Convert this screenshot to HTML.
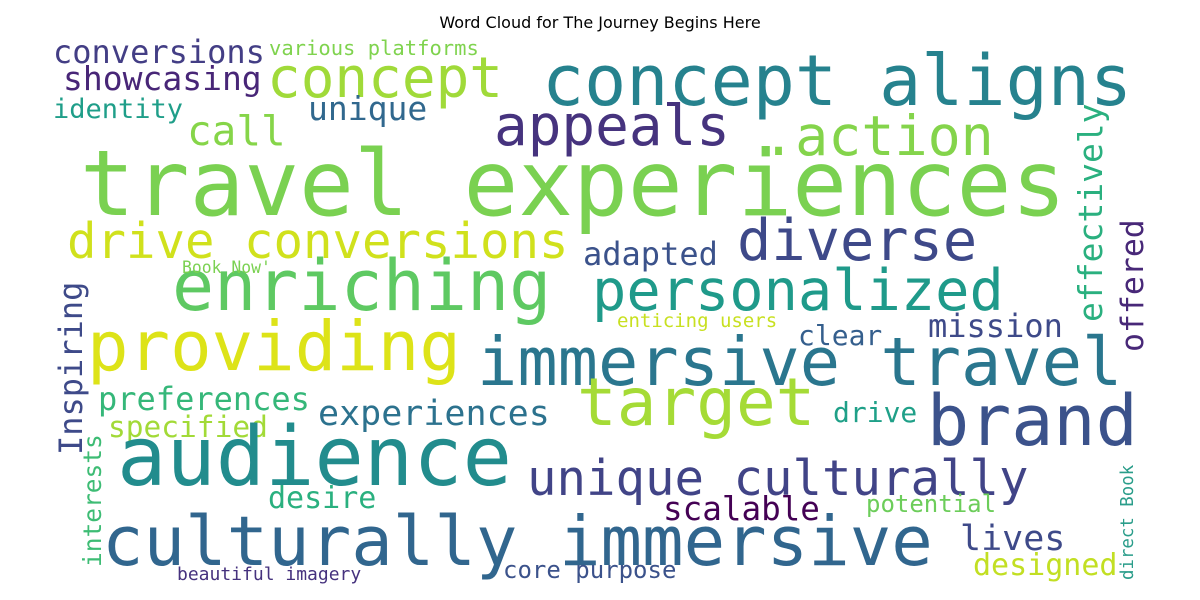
<!DOCTYPE html>
<html><head><meta charset="utf-8"><style>
html,body{margin:0;padding:0;background:#fff;width:1200px;height:600px;overflow:hidden}
svg text{font-family:"DejaVu Sans Mono","Liberation Mono",monospace}
</style></head><body>
<svg width="1200" height="600" xmlns="http://www.w3.org/2000/svg">
<rect width="1200" height="600" fill="#fff"/>
<text x="600" y="28" text-anchor="middle" style="font-family:'DejaVu Sans','Liberation Sans',sans-serif" font-size="16" fill="#000">Word Cloud for The Journey Begins Here</text>
<text x="80" y="215" font-size="91" fill="#7ad151">travel experiences</text>
<text x="542" y="105" font-size="70" fill="#26828e">concept aligns</text>
<text x="267" y="97" font-size="56" fill="#a0da39">concept</text>
<text x="494" y="145" font-size="56" fill="#46337e">appeals</text>
<text x="187" y="145" font-size="41" fill="#86d549">call</text>
<text x="762" y="155" font-size="55" fill="#84d44b">.action</text>
<text x="53" y="63" font-size="32" fill="#433e85">conversions</text>
<text x="269" y="55" font-size="20.5" fill="#7fd34e">various platforms</text>
<text x="63" y="90" font-size="33" fill="#482677">showcasing</text>
<text x="308" y="120" font-size="33" fill="#31688e">unique</text>
<text x="53" y="118" font-size="27" fill="#1f9e89">identity</text>
<text transform="translate(1102,322) rotate(-90)" font-size="33" fill="#2ab07f">effectively</text>
<text transform="translate(1143,352) rotate(-90)" font-size="31.5" fill="#482878">offered</text>
<text x="67" y="258" font-size="49" fill="#d0e11c">drive conversions</text>
<text x="737" y="260" font-size="57" fill="#3e4989">diverse</text>
<text x="583" y="265" font-size="32" fill="#3b528b">adapted</text>
<text x="172" y="310" font-size="70" fill="#5ec962">enriching</text>
<text x="592" y="310" font-size="57" fill="#1f9a8a">personalized</text>
<text x="182" y="273" font-size="16.4" fill="#7ad151">Book Now'</text>
<text x="617" y="327" font-size="19" fill="#c8e020">enticing users</text>
<text transform="translate(82,455) rotate(-90)" font-size="32" fill="#3e4a89">Inspiring</text>
<text x="928" y="337" font-size="32" fill="#3e4a89">mission</text>
<text x="798" y="345" font-size="28" fill="#355f8d">clear</text>
<text x="87" y="370" font-size="69" fill="#dde318">providing</text>
<text x="477" y="385" font-size="67" fill="#2a768e">immersive travel</text>
<text x="577" y="425" font-size="66" fill="#a5db36">target</text>
<text x="927" y="445" font-size="70" fill="#3b528b">brand</text>
<text x="98" y="410" font-size="32" fill="#35b779">preferences</text>
<text x="318" y="425" font-size="35" fill="#2c728e">experiences</text>
<text x="108" y="437" font-size="29.5" fill="#a2da37">specified</text>
<text x="833" y="422" font-size="28" fill="#1fa088">drive</text>
<text transform="translate(101,567) rotate(-90)" font-size="24.5" fill="#3dbc74">interests</text>
<text x="117" y="485" font-size="82" fill="#228c8d">audience</text>
<text x="527" y="495" font-size="49" fill="#414487">unique culturally</text>
<text x="268" y="508" font-size="30" fill="#2ab07f">desire</text>
<text x="663" y="520" font-size="32.6" fill="#440154">scalable</text>
<text x="866" y="512" font-size="24" fill="#6ccd5a">potential</text>
<text transform="translate(1133,580) rotate(-90)" font-size="17.4" fill="#2a9d8a">direct Book</text>
<text x="102" y="565" font-size="69" fill="#31668e">culturally immersive</text>
<text x="960" y="550" font-size="35" fill="#3e4a89">lives</text>
<text x="973" y="575" font-size="30" fill="#c2df23">designed</text>
<text x="177" y="580" font-size="18" fill="#46327e">beautiful imagery</text>
<text x="503" y="578" font-size="24" fill="#3b528b">core purpose</text>
</svg>
</body></html>
